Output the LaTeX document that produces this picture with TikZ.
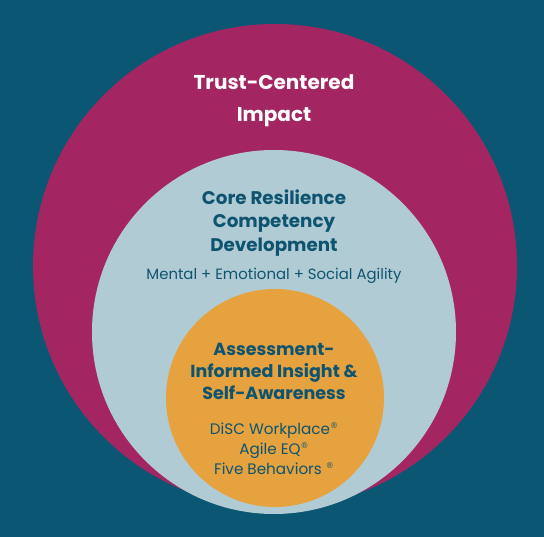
\documentclass[tikz,border=0pt]{standalone}
\usepackage{fontspec}
\setmainfont{Poppins}
\newfontfamily\symfont{DejaVu Sans}
\usepackage{tikz}
\usetikzlibrary{positioning}
\definecolor{Ground}{HTML}{0B5672}
\definecolor{Plum}{HTML}{A32663}
\definecolor{Mist}{HTML}{B1CBD4}
\definecolor{Amber}{HTML}{E5A23E}
\definecolor{Ink}{HTML}{0E5470}
\tikzset{ring/.style={circle,inner sep=0pt,draw=none},head/.style={align=center,inner sep=0pt,text=Ink},note/.style={align=center,inner sep=0pt,text=Ink}}
\newcommand{\reg}{\raisebox{.75ex}{\symfont\fontsize{8}{8}\selectfont ®}}

\begin{document}
\begin{tikzpicture}[x=1pt,y=-1pt]
      \fill[Ground](0,0)rectangle(544,537);
      \useasboundingbox(0,0)rectangle(544,537);
      \node[ring,fill=Plum,minimum size=484pt](impact)at(275,266){};
      \node[ring,fill=Mist,minimum size=364pt](core)at(274,332){};
      \node[ring,fill=Amber,minimum size=218pt](insight)at(275,398){};
      \node[head,text=white,font={\fontsize{20}{32}\selectfont\bfseries}](impacttxt)at(274,101){Trust-Centered\\Impact};
      \node[head,font={\fontsize{18.3}{23.5}\selectfont\bfseries}](coretxt)at(274,223){Core Resilience\\Competency\\Development};
      \node[note,font={\fontsize{14.9}{16}\selectfont}](agility)at(274,276){Mental + Emotional + Social Agility};
      \node[head,font={\fontsize{17.5}{22}\selectfont\bfseries}](insighttxt)at(274,371){Assessment-\\Informed Insight \&\\Self-Awareness};
      \node[note,font={\fontsize{15.2}{20}\selectfont}](tools)at(274,449){DiSC Workplace\reg\\Agile EQ\reg\\Five Behaviors \reg};
    \end{tikzpicture}
\end{document}
